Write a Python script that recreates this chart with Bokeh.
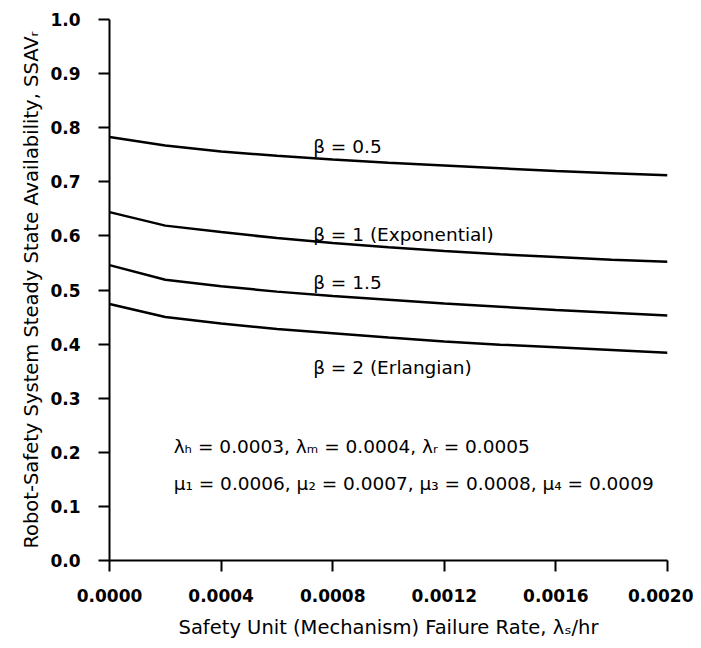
from bokeh.plotting import figure
from bokeh.models import Label, FixedTicker, NumeralTickFormatter, Range1d
from bokeh.embed import file_html
from bokeh.resources import INLINE

# Safety unit failure rate (per hour)
failure_rate = [0.0, 0.0002, 0.0004, 0.0006, 0.0008, 0.0010,
                0.0012, 0.0014, 0.0016, 0.0018, 0.0020]

# Steady state availability for different beta values
ssav_beta_05 = [0.783, 0.767, 0.756, 0.748, 0.741, 0.735, 0.730, 0.725, 0.720, 0.716, 0.712]
ssav_beta_10 = [0.644, 0.619, 0.607, 0.596, 0.587, 0.579, 0.572, 0.566, 0.561, 0.556, 0.552]
ssav_beta_15 = [0.546, 0.519, 0.507, 0.497, 0.489, 0.482, 0.475, 0.469, 0.463, 0.458, 0.453]
ssav_beta_20 = [0.474, 0.450, 0.438, 0.428, 0.420, 0.412, 0.405, 0.399, 0.394, 0.389, 0.384]

series_labels = ["β = 0.5", "β = 1 (Exponential)", "β = 1.5", "β = 2 (Erlangian)"]

x_ticks = [0.0, 0.0004, 0.0008, 0.0012, 0.0016, 0.0020]
y_ticks = [0.0, 0.1, 0.2, 0.3, 0.4, 0.5, 0.6, 0.7, 0.8, 0.9, 1.0]

param_line1 = "λₕ = 0.0003, λₘ = 0.0004, λᵣ = 0.0005"
param_line2 = "μ₁ = 0.0006, μ₂ = 0.0007, μ₃ = 0.0008, μ₄ = 0.0009"

FONT = "DejaVu Sans"

p = figure(width=693, height=648,
           x_range=Range1d(0, 0.002), y_range=Range1d(0, 1),
           output_backend="svg", toolbar_location=None,
           min_border_left=109, min_border_right=26,
           min_border_top=19, min_border_bottom=88)

p.xgrid.visible = False
p.ygrid.visible = False
p.outline_line_color = None
p.background_fill_color = "white"

for ys in [ssav_beta_05, ssav_beta_10, ssav_beta_15, ssav_beta_20]:
    p.line(failure_rate, ys, line_color="black", line_width=2.5)

# axes styling
for ax in (p.xaxis[0], p.yaxis[0]):
    ax.axis_line_width = 2
    ax.axis_line_color = "black"
    ax.major_tick_line_width = 2
    ax.major_tick_line_color = "black"
    ax.major_tick_in = 0
    ax.major_tick_out = 11
    ax.minor_tick_line_color = None
    ax.major_label_text_font = FONT
    ax.major_label_text_font_style = "bold"
    ax.major_label_text_font_size = "17px"
    ax.major_label_text_color = "black"
    ax.axis_label_text_font = FONT
    ax.axis_label_text_font_style = "normal"
    ax.axis_label_text_font_size = "19.5px"
    ax.axis_label_text_color = "black"

p.xaxis.ticker = FixedTicker(ticks=x_ticks)
p.yaxis.ticker = FixedTicker(ticks=y_ticks)
p.xaxis.formatter = NumeralTickFormatter(format="0.0000")
p.yaxis.formatter = NumeralTickFormatter(format="0.0")
p.xaxis.major_label_standoff = 17
p.yaxis.major_label_standoff = 18
p.xaxis.axis_label = "Safety Unit (Mechanism) Failure Rate, λₛ/hr"
p.yaxis.axis_label = "Robot-Safety System Steady State Availability, SSAVᵣ"
p.xaxis.axis_label_standoff = 11
p.yaxis.axis_label_standoff = 4

# curve labels
label_pos = [(0.00073, 0.765), (0.00073, 0.603), (0.00073, 0.513), (0.00073, 0.357)]
for (lx, ly), txt in zip(label_pos, series_labels):
    p.add_layout(Label(x=lx, y=ly, text=txt, text_font=FONT, text_font_size="18.5px",
                       text_color="black", text_baseline="middle", text_align="left"))

p.add_layout(Label(x=0.00023, y=0.210, text=param_line1, text_font=FONT,
                   text_font_size="18.5px", text_color="black",
                   text_baseline="middle", text_align="left"))
p.add_layout(Label(x=0.00023, y=0.143, text=param_line2, text_font=FONT,
                   text_font_size="18.5px", text_color="black",
                   text_baseline="middle", text_align="left"))

open("out.html", "w").write(file_html(p, INLINE))
